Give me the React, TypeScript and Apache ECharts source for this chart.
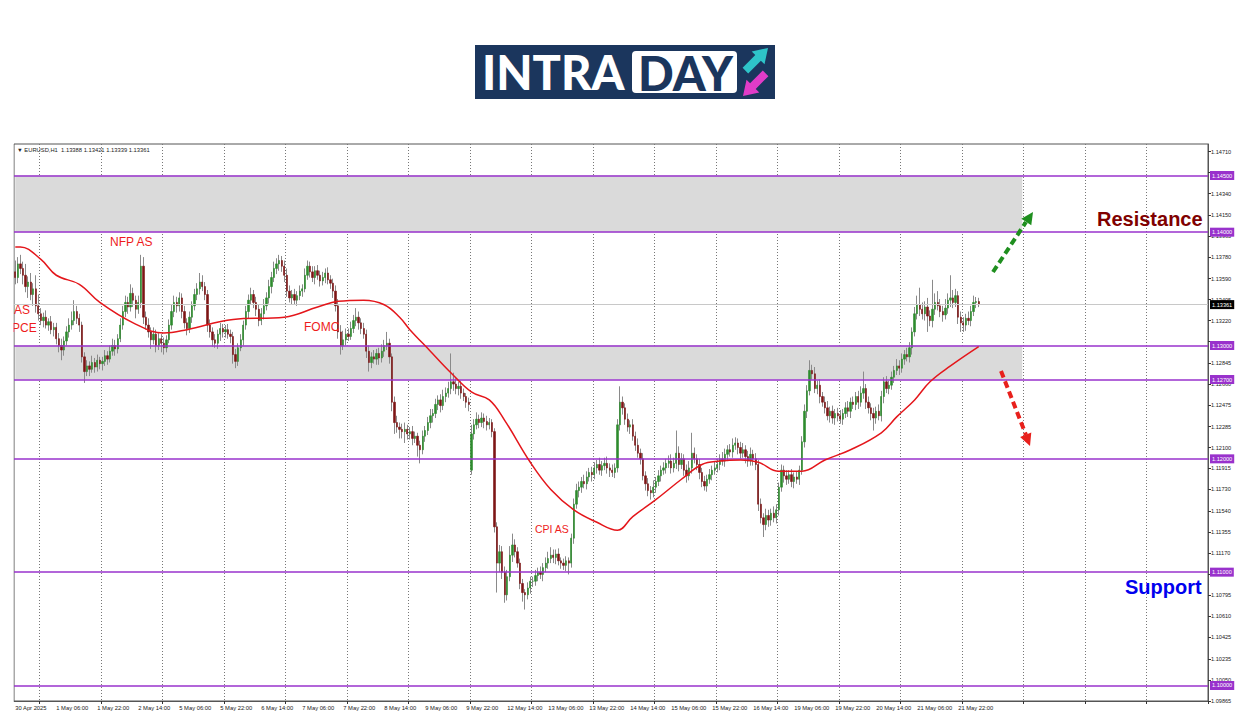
import React, { useEffect, useRef } from "react";
import * as echarts from "echarts";

// ---------- DATA (prices in pips above 1.10000) ----------
const BASE = 1.1;
const firstOpen = 365;
const openOverrides: Record<number, number> = { 178: 190 };

const c30Apr = [360, 372, 368, 362, 352, 356, 345, 350, 335, 328];
const u30Apr = [10, 6, 8, 6, 10, 5, 8, 5, 12, 10];
const l30Apr = [6, 5, 5, 8, 5, 10, 5, 10, 6, 6];

const c01May = [322, 325, 318, 321, 314, 316, 306, 300, 296, 304, 312, 318, 322, 330, 324, 318, 290, 277, 282, 279, 285, 281, 287, 284];
const u01May = [5, 4, 6, 3, 5, 4, 4, 5, 6, 4, 5, 6, 8, 10, 5, 4, 3, 4, 5, 4, 6, 4, 5, 3];
const l01May = [4, 6, 3, 5, 4, 6, 5, 6, 9, 5, 4, 5, 4, 4, 5, 6, 5, 10, 4, 6, 3, 5, 4, 5];

const c02May = [286, 291, 288, 295, 300, 297, 306, 318, 330, 338, 334, 346, 340, 332, 338, 370, 325, 318, 312, 305, 310, 300, 306, 302];
const u02May = [4, 5, 4, 5, 6, 5, 4, 6, 5, 6, 5, 8, 5, 4, 6, 10, 8, 5, 6, 4, 6, 4, 5, 4];
const l02May = [6, 4, 5, 3, 4, 6, 4, 3, 4, 5, 6, 4, 6, 8, 4, 5, 6, 4, 5, 8, 4, 6, 4, 8];

const c05May = [298, 305, 318, 330, 338, 335, 342, 330, 320, 315, 325, 335, 345, 350, 356, 352, 345, 318, 312, 305, 302, 310, 315, 312];
const u05May = [5, 4, 5, 6, 6, 5, 5, 4, 5, 4, 5, 4, 5, 5, 8, 6, 4, 4, 5, 4, 5, 4, 5, 4];
const l05May = [6, 4, 3, 4, 5, 6, 5, 6, 5, 6, 4, 5, 4, 5, 5, 4, 5, 6, 5, 6, 4, 5, 6, 5];

const c06May = [314, 310, 308, 292, 286, 298, 305, 318, 330, 340, 345, 338, 332, 322, 328, 335, 342, 352, 360, 368, 372, 375, 370, 362];
const u06May = [4, 5, 4, 4, 5, 4, 5, 4, 5, 5, 6, 4, 5, 4, 5, 6, 5, 6, 5, 6, 5, 5, 4, 5];
const l06May = [5, 4, 6, 8, 6, 4, 3, 5, 4, 6, 4, 5, 6, 5, 4, 5, 4, 5, 6, 4, 5, 6, 5, 6];

const c07May = [348, 342, 345, 340, 344, 348, 350, 362, 370, 365, 360, 366, 362, 357, 360, 364, 358, 355, 348, 335, 312, 300, 305, 310];
const u07May = [6, 5, 4, 5, 4, 5, 4, 6, 5, 4, 5, 4, 5, 4, 5, 4, 5, 4, 4, 5, 6, 6, 8, 5];
const l07May = [5, 4, 6, 4, 5, 4, 5, 3, 4, 5, 4, 6, 4, 5, 4, 5, 4, 5, 6, 5, 6, 8, 4, 5];

const c08May = [308, 315, 322, 325, 320, 315, 310, 295, 285, 290, 288, 293, 289, 295, 300, 302, 290, 250, 232, 228, 226, 224, 226, 222];
const u08May = [5, 6, 5, 8, 5, 4, 5, 4, 5, 4, 6, 4, 5, 6, 5, 10, 4, 3, 5, 6, 4, 5, 6, 4];
const l08May = [4, 3, 4, 5, 6, 5, 4, 6, 8, 5, 4, 5, 6, 4, 5, 4, 6, 8, 10, 5, 8, 6, 10, 5];

const c09May = [224, 218, 220, 212, 208, 220, 225, 232, 238, 240, 248, 252, 247, 255, 258, 262, 268, 266, 262, 264, 258, 255, 250, 248];
const u09May = [4, 5, 4, 3, 4, 5, 4, 5, 6, 4, 5, 4, 5, 6, 5, 6, 25, 8, 5, 4, 5, 4, 3, 4];
const l09May = [5, 6, 4, 10, 12, 4, 5, 4, 5, 6, 4, 5, 6, 4, 5, 4, 5, 6, 5, 6, 5, 4, 5, 6];

const c12May = [222, 230, 235, 232, 236, 233, 230, 232, 224, 140, 108, 118, 100, 80, 96, 115, 124, 118, 108, 90, 82, 80, 86, 92];
const u12May = [8, 5, 6, 4, 5, 4, 5, 4, 3, 3, 4, 6, 5, 5, 6, 8, 10, 5, 4, 4, 4, 3, 5, 4];
const l12May = [4, 5, 4, 5, 4, 6, 5, 4, 5, 5, 26, 8, 6, 7, 5, 4, 6, 5, 4, 5, 8, 13, 4, 5];

const c13May = [92, 97, 100, 98, 104, 108, 112, 115, 113, 116, 110, 108, 106, 110, 108, 130, 160, 172, 175, 180, 178, 184, 188, 186];
const u13May = [4, 5, 4, 5, 4, 5, 6, 7, 5, 4, 5, 3, 4, 4, 3, 4, 5, 6, 5, 4, 6, 5, 4, 5];
const l13May = [5, 4, 5, 4, 6, 4, 5, 4, 5, 6, 4, 5, 4, 5, 10, 4, 5, 4, 6, 5, 4, 5, 4, 6];

const c14May = [192, 195, 190, 194, 196, 192, 190, 188, 192, 230, 250, 245, 235, 228, 230, 220, 212, 205, 200, 185, 178, 172, 170, 175];
const u14May = [5, 4, 6, 4, 5, 6, 4, 5, 4, 5, 14, 5, 4, 5, 4, 5, 4, 6, 4, 5, 4, 5, 4, 6];
const l14May = [4, 5, 4, 5, 4, 5, 6, 4, 5, 4, 5, 6, 5, 4, 6, 4, 5, 4, 5, 4, 6, 5, 6, 4];

const c15May = [180, 185, 190, 192, 196, 198, 192, 196, 205, 195, 200, 190, 185, 192, 205, 200, 195, 188, 180, 176, 182, 186, 190, 192];
const u15May = [4, 5, 4, 5, 4, 5, 6, 5, 20, 6, 5, 4, 5, 6, 18, 5, 4, 5, 4, 5, 4, 5, 4, 6];
const l15May = [5, 4, 5, 4, 5, 4, 5, 4, 5, 6, 4, 5, 6, 4, 5, 4, 5, 6, 5, 4, 5, 4, 5, 4];

const c16May = [195, 200, 198, 204, 208, 206, 212, 214, 210, 205, 208, 202, 198, 204, 200, 195, 160, 148, 142, 150, 146, 152, 148, 155];
const u16May = [5, 4, 6, 5, 4, 5, 6, 5, 4, 5, 6, 4, 5, 6, 4, 5, 4, 5, 4, 6, 5, 4, 6, 5];
const l16May = [4, 5, 4, 5, 6, 4, 5, 4, 6, 5, 4, 6, 5, 4, 6, 5, 6, 5, 11, 5, 6, 5, 4, 5];

const c19May = [175, 190, 185, 182, 186, 180, 184, 182, 190, 215, 242, 260, 278, 275, 262, 265, 255, 250, 245, 238, 242, 236, 240, 238];
const u19May = [4, 5, 4, 5, 4, 5, 4, 5, 4, 5, 6, 5, 9, 5, 6, 4, 5, 4, 5, 6, 4, 5, 4, 5];
const l19May = [5, 4, 6, 5, 4, 5, 6, 4, 5, 4, 5, 6, 4, 5, 4, 5, 6, 4, 5, 4, 6, 5, 6, 5];

const c20May = [235, 240, 245, 242, 250, 248, 255, 250, 258, 262, 250, 245, 240, 236, 242, 238, 255, 268, 262, 265, 272, 278, 282, 280];
const u20May = [5, 4, 5, 6, 4, 5, 4, 5, 6, 15, 4, 5, 4, 5, 4, 6, 5, 4, 5, 4, 5, 4, 6, 5];
const l20May = [4, 5, 4, 5, 6, 4, 5, 6, 4, 5, 6, 5, 6, 11, 5, 4, 5, 6, 4, 5, 4, 5, 4, 6];

const c21May = [288, 292, 290, 298, 312, 328, 336, 332, 328, 334, 326, 322, 332, 338, 335, 330, 327, 333, 340, 342, 338, 344, 325, 320];
const u21May = [5, 4, 6, 5, 4, 6, 8, 15, 6, 5, 8, 5, 26, 8, 10, 6, 5, 8, 6, 20, 7, 6, 4, 5];
const l21May = [4, 5, 4, 5, 6, 4, 5, 6, 5, 6, 14, 5, 6, 5, 4, 5, 6, 4, 5, 6, 5, 4, 6, 8];

const c22May = [318, 324, 322, 330, 338, 338.8, 336.1];
const u22May = [5, 4, 6, 5, 6, 4, 3.3];
const l22May = [6, 5, 4, 5, 4, 5, 2.2];

// moving average: [bar index, pips]
const maPoints = [
  [0, 387], [2, 387], [10, 376], [16, 362], [25, 354], [33, 338], [46, 320], [58, 311], [67, 314],
  [85, 323], [105, 325], [118, 334], [126, 339], [136, 340], [144, 336], [150, 325], [154, 314],
  [162, 295], [170, 276], [178, 259], [185, 252], [191, 234], [201, 197], [209, 173], [218, 155],
  [227, 144], [235, 137], [241, 149], [250, 164], [260, 182], [268, 195], [275, 198], [283, 199],
  [290, 197], [298, 189], [307, 189], [316, 199], [326, 208], [338, 223], [344, 237], [351, 252],
  [357, 268], [365, 282], [376, 299],
];

const xTickLabels = [
  "30 Apr 2025", "1 May 06:00", "1 May 22:00", "2 May 14:00", "5 May 06:00", "5 May 22:00",
  "6 May 14:00", "7 May 06:00", "7 May 22:00", "8 May 14:00", "9 May 06:00", "9 May 22:00",
  "12 May 14:00", "13 May 06:00", "13 May 22:00", "14 May 14:00", "15 May 06:00", "15 May 22:00",
  "16 May 14:00", "19 May 06:00", "19 May 22:00", "20 May 14:00", "21 May 06:00", "21 May 22:00",
];

const yTickValues = [
  1.1471, 1.14525, 1.1434, 1.1415, 1.13965, 1.1378, 1.1359, 1.13405, 1.1322, 1.13035, 1.12845,
  1.1266, 1.12475, 1.12285, 1.121, 1.11915, 1.1173, 1.1154, 1.11355, 1.1117, 1.10985, 1.10795,
  1.1061, 1.10425, 1.10235, 1.1005, 1.09865,
];
// tick labels that sit fully under a level box in the reference
const yHiddenLabels = [1.14525, 1.13035, 1.10985];

const levelValues = [1.145, 1.14, 1.13, 1.127, 1.12, 1.11, 1.1];
const zones = [[1.14, 1.145], [1.127, 1.13]];
const currentPrice = 1.13361;

// ---------- layout constants ----------
const TOTAL_SLOTS = 466;
const LABEL_STEP = 16;
const DAY_START = 10;
const DAY_STEP = 24;
const ZONE_END = 393;
const PURPLE = "#9932CC";
const RED_TXT = "#ee1c1c";

const closes = [
  ...c30Apr, ...c01May, ...c02May, ...c05May, ...c06May, ...c07May, ...c08May, ...c09May,
  ...c12May, ...c13May, ...c14May, ...c15May, ...c16May, ...c19May, ...c20May, ...c21May, ...c22May,
];
const ups = [
  ...u30Apr, ...u01May, ...u02May, ...u05May, ...u06May, ...u07May, ...u08May, ...u09May,
  ...u12May, ...u13May, ...u14May, ...u15May, ...u16May, ...u19May, ...u20May, ...u21May, ...u22May,
];
const downs = [
  ...l30Apr, ...l01May, ...l02May, ...l05May, ...l06May, ...l07May, ...l08May, ...l09May,
  ...l12May, ...l13May, ...l14May, ...l15May, ...l16May, ...l19May, ...l20May, ...l21May, ...l22May,
];

const px = (p: number) => +(BASE + p / 10000).toFixed(6);

function buildOption() {
  const full: number[][] = [];
  const bodies: number[][] = [];
  closes.forEach((c, i) => {
    const o = openOverrides[i] ?? (i === 0 ? firstOpen : closes[i - 1]);
    const hi = Math.max(o, c) + ups[i];
    const lo = Math.min(o, c) - downs[i];
    full.push([px(o), px(c), px(lo), px(hi)]);
    bodies.push([px(o), px(c), px(Math.min(o, c)), px(Math.max(o, c))]);
  });
  const cats = Array.from({ length: TOTAL_SLOTS }, (_, i) => String(i));
  const dayFn = (i: number) => i >= DAY_START && (i - DAY_START) % DAY_STEP === 0;
  const smallFont = "Liberation Sans, Arial, sans-serif";
  const yLabelValues = yTickValues.filter((v) => !yHiddenLabels.includes(v));

  const boxLabel = (text: string, bg: string) => ({
    show: true,
    position: "end",
    distance: 2,
    formatter: () => text,
    color: "#fff",
    backgroundColor: bg,
    fontSize: 5.6,
    fontFamily: smallFont,
    padding: [2, 2, 1, 2],
  });

  const levelLines = levelValues.map((v) => ({
    yAxis: v,
    lineStyle: { color: PURPLE, width: 1.5, type: "solid" },
    label: boxLabel(v.toFixed(5), PURPLE),
  }));

  return {
    animation: false,
    backgroundColor: "#fff",
    grid: { left: 14, right: 42, top: 144, bottom: 15, show: true, borderColor: "#555", borderWidth: 1 },
    xAxis: {
      type: "category",
      data: cats,
      boundaryGap: true,
      axisLine: { show: true, lineStyle: { color: "#555" } },
      axisTick: { show: true, interval: (i: number) => dayFn(i), length: 3, lineStyle: { color: "#333" } },
      axisLabel: {
        interval: (i: number) => i % LABEL_STEP === 0 && i / LABEL_STEP < xTickLabels.length,
        formatter: (_v: string, idx: number) => xTickLabels[idx / LABEL_STEP] ?? "",
        align: "left",
        fontSize: 5.8,
        fontFamily: smallFont,
        color: "#222",
        margin: 4,
      },
      splitLine: { show: true, interval: (i: number) => dayFn(i), lineStyle: { color: "#777", type: [1, 2], width: 1 } },
    },
    yAxis: {
      type: "value",
      position: "right",
      min: 1.098631,
      max: 1.147782,
      scale: true,
      splitLine: { show: false },
      axisLine: { show: true, lineStyle: { color: "#555" } },
      axisTick: { show: true, customValues: yTickValues, length: 3, lineStyle: { color: "#333" } },
      axisLabel: {
        customValues: yLabelValues,
        formatter: (v: number) => v.toFixed(5),
        fontSize: 5.6,
        fontFamily: smallFont,
        color: "#222",
        margin: 3,
      },
    },
    series: [
      {
        type: "line",
        name: "zones",
        data: [],
        z: 1,
        silent: true,
        markArea: {
          silent: true,
          precision: 6,
          itemStyle: { color: "#dadada" },
          data: zones.map(([a, b]) => [{ xAxis: 0, yAxis: a }, { xAxis: ZONE_END, yAxis: b }]),
        },
      },
      {
        type: "candlestick",
        name: "wicks",
        data: full,
        z: 3,
        barWidth: 1,
        itemStyle: { color: "#8a8a8a", color0: "#8a8a8a", borderColor: "#8a8a8a", borderColor0: "#8a8a8a", borderWidth: 1 },
      },
      {
        type: "candlestick",
        name: "bodies",
        data: bodies,
        z: 4,
        barWidth: 1.8,
        itemStyle: { color: "#2e8b2e", color0: "#7d1515", borderColor: "#2e8b2e", borderColor0: "#7d1515", borderWidth: 0.6 },
      },
      {
        type: "line",
        name: "MA",
        data: maPoints.map(([i, p]) => [i, px(p)]),
        smooth: 0.4,
        symbol: "none",
        z: 5,
        lineStyle: { color: "#e4161b", width: 1.5 },
      },
      {
        type: "line",
        name: "levels",
        data: [],
        z: 6,
        markLine: {
          silent: true,
          precision: 6,
          symbol: ["none", "none"],
          data: [
            {
              yAxis: currentPrice,
              lineStyle: { color: "#c8c8c8", width: 1, type: "solid" },
              label: boxLabel(currentPrice.toFixed(5), "#000"),
            },
            ...levelLines,
          ],
        },
      },
    ],
    graphic: [
      // logo
      { type: "rect", shape: { x: 475, y: 45, width: 300, height: 54 }, style: { fill: "#1b365d" } },
      { type: "text", x: 482, y: 72, style: { text: "INTRA", fill: "#fff", font: "900 47px Lato, 'Open Sans', sans-serif", verticalAlign: "middle" } },
      { type: "rect", shape: { x: 632, y: 51, width: 105, height: 42, r: 4 }, style: { fill: "#fff" } },
      { type: "text", x: 638, y: 73, style: { text: "DAY", fill: "#1b365d", font: "900 47px Lato, 'Open Sans', sans-serif", verticalAlign: "middle" } },
      { type: "polygon", shape: { points: [[768, 48], [764.5, 64.3], [760.9, 60.7], [748.2, 73.4], [742.6, 67.8], [755.3, 55.1], [751.7, 51.5]] }, style: { fill: "#2ec4c9" } },
      { type: "polygon", shape: { points: [[743, 96], [759.3, 92.5], [755.7, 88.9], [768.4, 76.2], [762.8, 70.6], [750.1, 83.3], [746.5, 79.7]] }, style: { fill: "#e03cc8" } },
      // header
      { type: "text", x: 17, y: 150, style: { text: "\u25BC EURUSD,H1  1.13388 1.13421 1.13339 1.13361", fill: "#222", font: "5.8px Liberation Sans, Arial, sans-serif", verticalAlign: "middle" }, z: 10 },
      // event labels
      { type: "text", x: 110, y: 242, style: { text: "NFP AS", fill: RED_TXT, font: "12px Liberation Sans, Arial, sans-serif", verticalAlign: "middle" }, z: 10 },
      { type: "text", x: 14, y: 310, style: { text: "AS", fill: RED_TXT, font: "12px Liberation Sans, Arial, sans-serif", verticalAlign: "middle" }, z: 10 },
      { type: "text", x: 12, y: 328, style: { text: "PCE", fill: RED_TXT, font: "12px Liberation Sans, Arial, sans-serif", verticalAlign: "middle" }, z: 10 },
      { type: "text", x: 304, y: 327, style: { text: "FOMC", fill: RED_TXT, font: "12px Liberation Sans, Arial, sans-serif", verticalAlign: "middle" }, z: 10 },
      { type: "text", x: 535, y: 529, style: { text: "CPI AS", fill: RED_TXT, font: "10.5px Liberation Sans, Arial, sans-serif", verticalAlign: "middle" }, z: 10 },
      { type: "rect", shape: { x: 0, y: 140, width: 13.5, height: 570 }, style: { fill: "#fff" }, z: 11 },
      // resistance / support
      { type: "text", x: 1097, y: 219, style: { text: "Resistance", fill: "#800000", font: "bold 20px Liberation Sans, Arial, sans-serif", verticalAlign: "middle" }, z: 10 },
      { type: "text", x: 1125, y: 587, style: { text: "Support", fill: "#0000ee", font: "bold 20px Liberation Sans, Arial, sans-serif", verticalAlign: "middle" }, z: 10 },
      // arrows
      { type: "line", shape: { x1: 993, y1: 272, x2: 1026, y2: 222 }, style: { stroke: "#1f8f1f", lineWidth: 4, lineDash: [7, 4] }, z: 10 },
      { type: "polygon", shape: { points: [[1033, 212], [1031.3, 225.3], [1021.3, 218.7]] }, style: { fill: "#1f8f1f" }, z: 10 },
      { type: "line", shape: { x1: 1001, y1: 371, x2: 1026, y2: 435 }, style: { stroke: "#e8201c", lineWidth: 4, lineDash: [7, 4] }, z: 10 },
      { type: "polygon", shape: { points: [[1030, 446], [1031.3, 432.6], [1020.1, 437]] }, style: { fill: "#e8201c" }, z: 10 },
    ],
  };
}

export default function App() {
  const ref = useRef<HTMLDivElement>(null);
  useEffect(() => {
    if (!ref.current) return;
    const chart = echarts.init(ref.current, null, { renderer: "svg" });
    chart.setOption(buildOption() as any);
    return () => chart.dispose();
  }, []);
  return (
    <div
      ref={ref}
      style={{ position: "fixed", left: 0, top: 0, width: 1250, height: 716, background: "#fff" }}
    />
  );
}
